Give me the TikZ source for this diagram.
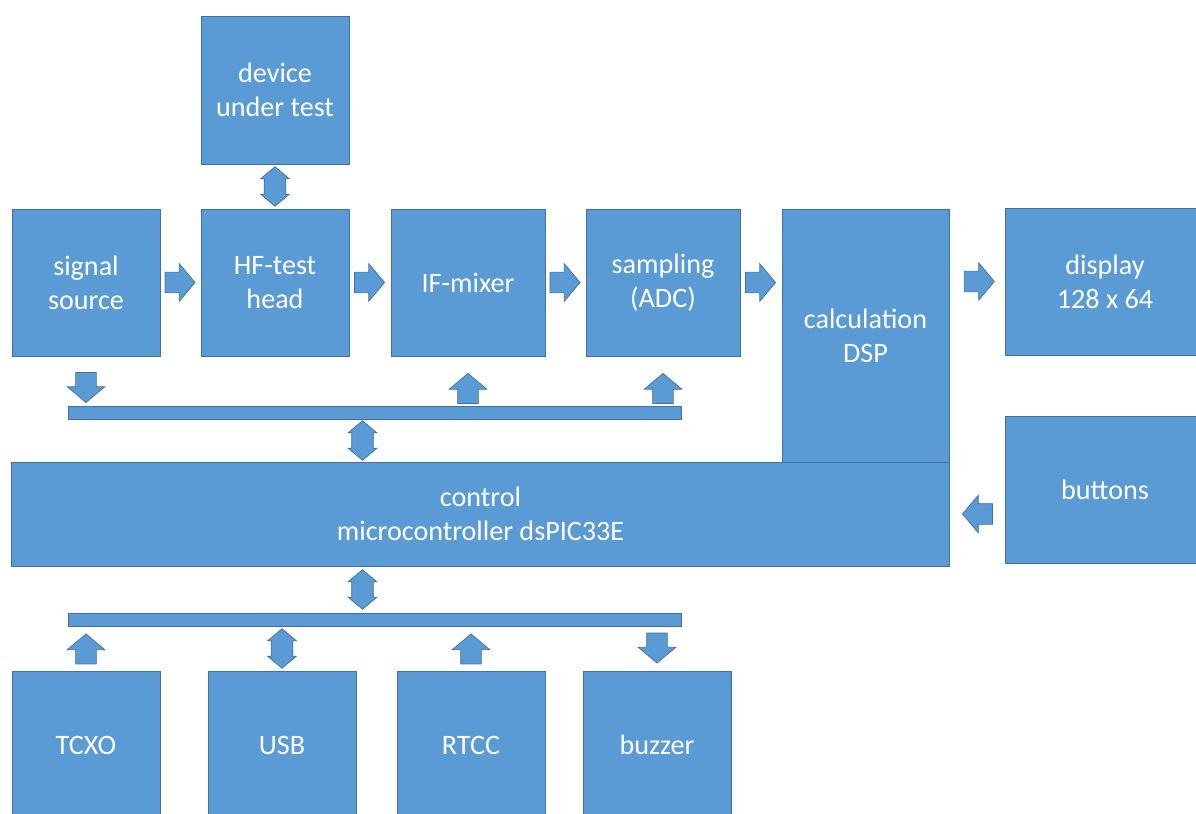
\documentclass[tikz,border=0pt]{standalone}
\usepackage{fontspec}
\setmainfont{Carlito}
\usetikzlibrary{shapes.arrows,calc}

\definecolor{boxblue}{HTML}{5B9BD5}
\definecolor{edgeblue}{HTML}{41719C}

\begin{document}
\begin{tikzpicture}[x=0.025cm,y=-0.025cm,
	block/.style={draw=edgeblue,fill=boxblue,line width=0.6pt,text=white,align=center,inner sep=0pt,font=\fontsize{20}{24}\selectfont},
	bus/.style={draw=edgeblue,fill=boxblue,line width=0.6pt,inner sep=0pt,minimum width=15.325cm,minimum height=0.325cm},
	flow/.style={single arrow,draw=edgeblue,fill=boxblue,line width=0.5pt,inner sep=0.25cm,minimum height=0.75cm,single arrow head extend=0.21cm,single arrow tip angle=100},
	both/.style={double arrow,draw=edgeblue,fill=boxblue,line width=0.5pt,inner sep=0.26cm,minimum height=0.8cm,double arrow head extend=0.09cm,double arrow tip angle=100}]
	\useasboundingbox (0,0) rectangle (1196,814);
	% signal chain
	\node[block,minimum width=3.7cm,minimum height=3.7cm] (dut) at (275,90) {device\\under test};
	\node[block,minimum width=3.7cm,minimum height=3.675cm] (src) at (86,282.5) {signal\\source};
	\node[block,minimum width=3.7cm,minimum height=3.675cm] (hf) at (275,282.5) {HF-test\\head};
	\node[block,minimum width=3.85cm,minimum height=3.675cm] (mix) at (468,282.5) {IF-mixer};
	\node[block,minimum width=3.85cm,minimum height=3.675cm] (adc) at (663,282.5) {sampling\\(ADC)};
	\node[block,minimum width=4.175cm,minimum height=6.325cm] (dsp) at (865.5,335.5) {calculation\\DSP};
	\node[block,minimum width=5cm,minimum height=3.675cm] (disp) at (1105,281.5) {display\\128 x 64};
	\node[block,minimum width=5cm,minimum height=3.675cm] (btn) at (1105,489.5) {buttons};
	% control and buses
	\node[block,minimum width=23.425cm,minimum height=2.6cm] (ctrl) at (480.5,514) {control\\microcontroller dsPIC33E};
	\node[bus] (bus1) at (374.5,412.5) {};
	\node[bus] (bus2) at (374.5,619.5) {};
	% peripherals
	\node[block,minimum width=3.7cm,minimum height=3.7cm] (tcxo) at (86,745) {TCXO};
	\node[block,minimum width=3.7cm,minimum height=3.7cm] (usb) at (282,745) {USB};
	\node[block,minimum width=3.7cm,minimum height=3.7cm] (rtcc) at (471,745) {RTCC};
	\node[block,minimum width=3.7cm,minimum height=3.7cm] (buzz) at (657,745) {buzzer};
	% block arrows
	\node[flow] (a1) at ([xshift=-0.12cm]$(src.east)!0.5!(hf.west)$) {};
	\node[flow] (a2) at ([xshift=-0.12cm]$(hf.east)!0.5!(mix.west)$) {};
	\node[flow] (a3) at ([xshift=-0.12cm]$(mix.east)!0.5!(adc.west)$) {};
	\node[flow] (a4) at ([xshift=-0.12cm]$(adc.east)!0.5!(adc.east-|dsp.west)$) {};
	\node[flow] (a5) at ([xshift=-0.05cm]$(dsp.east|-disp.west)!0.5!(disp.west)$) {};
	\node[flow,shape border rotate=180] (a6) at ([xshift=0.12cm]$(ctrl.east)!0.5!(ctrl.east-|btn.west)$) {};
	\node[both,shape border rotate=90] (d1) at ($(dut.south)!0.5!(hf.north)$) {};
	\node[flow,shape border rotate=270] (a7) at ([yshift=0.56cm]src.south|-bus1.north) {};
	\node[flow,shape border rotate=90] (a8) at ([yshift=0.32cm]mix.south|-bus1.north) {};
	\node[flow,shape border rotate=90] (a9) at ([yshift=0.32cm]adc.south|-bus1.north) {};
	\node[both,shape border rotate=90] (d2) at ([xshift=-0.3cm]$(bus1.south)!0.5!(bus1.south|-ctrl.north)$) {};
	\node[both,shape border rotate=90] (d3) at ([xshift=-0.3cm]$(bus2.north|-ctrl.south)!0.5!(bus2.north)$) {};
	\node[flow,shape border rotate=90] (a10) at ([yshift=-0.12cm]$(tcxo.north|-bus2.south)!0.5!(tcxo.north)$) {};
	\node[both,shape border rotate=90] (d4) at ($(usb.north|-bus2.south)!0.5!(usb.north)$) {};
	\node[flow,shape border rotate=90] (a11) at ([yshift=-0.12cm]$(rtcc.north|-bus2.south)!0.5!(rtcc.north)$) {};
	\node[flow,shape border rotate=270] (a12) at ([yshift=0.12cm]$(buzz.north|-bus2.south)!0.5!(buzz.north)$) {};
\end{tikzpicture}
\end{document}
